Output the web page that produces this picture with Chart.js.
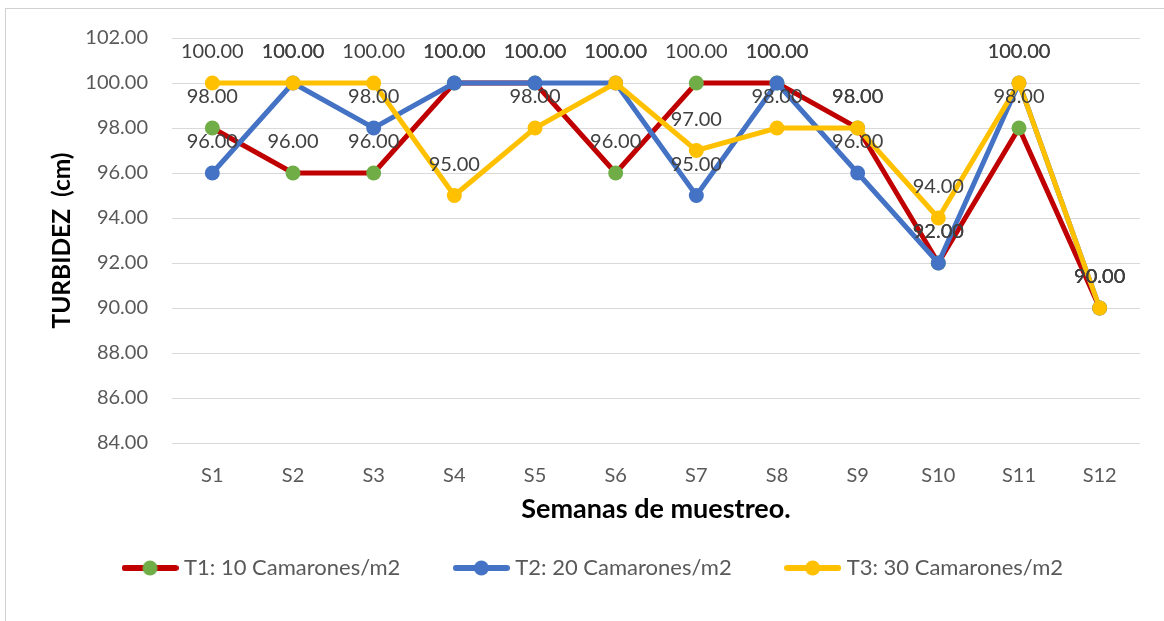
<!DOCTYPE html>
<html>
<head>
<meta charset="utf-8">
<script src="https://cdn.jsdelivr.net/npm/chart.js@4/dist/chart.umd.min.js"></script>
<style>
  html, body { margin: 0; padding: 0; background: #fff; overflow: hidden; }
  #frame { position: absolute; left: 5px; top: 8px; width: 1300px; height: 800px; border: 1px solid #D0D0D0; box-sizing: border-box; }
  #wrap { position: absolute; left: 0; top: 0; width: 1164px; height: 621px; }
</style>
</head>
<body>
<div id="frame"></div>
<div id="wrap"><canvas id="myChart" width="1164" height="621"></canvas></div>
<script>
// datos
const semanas = ['S1', 'S2', 'S3', 'S4', 'S5', 'S6', 'S7', 'S8', 'S9', 'S10', 'S11', 'S12'];
const t1 = [98, 96, 96, 100, 100, 96, 100, 100, 98, 92, 98, 90];
const t2 = [96, 100, 98, 100, 100, 100, 95, 100, 96, 92, 100, 90];
const t3 = [100, 100, 100, 95, 98, 100, 97, 98, 98, 94, 100, 90];
const nombres = ['T1: 10 Camarones/m2', 'T2: 20 Camarones/m2', 'T3: 30 Camarones/m2'];
const yMin = 84, yMax = 102, yStep = 2;

Chart.defaults.font.family = 'Lato, "Open Sans", sans-serif';

// icono de leyenda: linea con punto al centro
function legendIcon(lineColor, dotColor) {
    const c = document.createElement('canvas');
    c.width = 57; c.height = 16;
    const g = c.getContext('2d');
    g.strokeStyle = lineColor;
    g.lineWidth = 6;
    g.lineCap = 'round';
    g.beginPath(); g.moveTo(3, 8); g.lineTo(54, 8); g.stroke();
    g.fillStyle = dotColor;
    g.beginPath(); g.arc(28.5, 8, 7.5, 0, Math.PI * 2); g.fill();
    return c;
}

const colores = [
    { line: '#C00000', dot: '#70AD47' },
    { line: '#4472C4', dot: '#4472C4' },
    { line: '#FFC000', dot: '#FFC000' }
];

// etiquetas de datos sobre cada punto
const dataLabels = {
    id: 'dataLabels',
    afterDatasetsDraw(chart) {
        const ctx = chart.ctx;
        ctx.save();
        ctx.font = '20px Lato, "Open Sans", sans-serif';
        ctx.fillStyle = '#404040';
        ctx.textAlign = 'center';
        ctx.textBaseline = 'middle';
        chart.data.datasets.forEach((ds, i) => {
            const meta = chart.getDatasetMeta(i);
            meta.data.forEach((pt, j) => {
                ctx.fillText(ds.data[j].toFixed(2), pt.x, pt.y - 31);
            });
        });
        ctx.restore();
    }
};

const series = [t1, t2, t3];
const datasets = series.map((vals, i) => ({
    label: nombres[i],
    data: vals,
    borderColor: colores[i].line,
    backgroundColor: colores[i].dot,
    pointBackgroundColor: colores[i].dot,
    pointBorderWidth: 0,
    pointRadius: 7.5,
    pointHoverRadius: 7.5,
    borderWidth: 5,
    tension: 0,
    order: 3 - i,
    pointStyle: 'circle'
}));

const icons = colores.map(c => legendIcon(c.line, c.dot));

new Chart(document.getElementById('myChart').getContext('2d'), {
    type: 'line',
    data: { labels: semanas, datasets: datasets },
    options: {
        responsive: false,
        animation: false,
        layout: { padding: { left: 50, right: 24, top: 38, bottom: 32 } },
        plugins: {
            tooltip: { enabled: false },
            legend: {
                position: 'bottom',
                labels: {
                    usePointStyle: true,
                    pointStyleWidth: 46,
                    boxHeight: 16,
                    padding: 58,
                    color: '#595959',
                    font: { size: 22 },
                    sort: (a, b) => a.datasetIndex - b.datasetIndex,
                    generateLabels(chart) {
                        return chart.data.datasets.map((ds, i) => ({
                            text: ds.label,
                            pointStyle: icons[i],
                            fillStyle: ds.backgroundColor,
                            strokeStyle: ds.borderColor,
                            lineWidth: 0,
                            datasetIndex: i,
                            fontColor: '#595959'
                        }));
                    }
                }
            }
        },
        scales: {
            x: {
                offset: true,
                grid: { display: false, drawTicks: false },
                border: { display: false },
                ticks: { color: '#595959', font: { size: 20 }, padding: 20.5 },
                title: {
                    display: true,
                    text: 'Semanas de muestreo.',
                    color: '#000',
                    font: { size: 27, weight: 'bold' },
                    padding: { top: 0, bottom: -26.7 }
                },
                afterFit(scale) { scale.height = 56; }
            },
            y: {
                min: yMin,
                max: yMax,
                grid: { color: '#D9D9D9', lineWidth: 1, drawTicks: false },
                border: { display: false },
                ticks: {
                    stepSize: yStep,
                    color: '#595959',
                    font: { size: 20 },
                    padding: 24,
                    callback: v => v.toFixed(2)
                },
                title: {
                    display: true,
                    text: 'TURBIDEZ  (cm)',
                    color: '#000',
                    font: { size: 24.5, weight: 'bold' },
                    padding: { top: -3, bottom: 0 }
                },
                afterFit(scale) { scale.width = 122; }
            }
        }
    },
    plugins: [dataLabels]
});
</script>
</body>
</html>
